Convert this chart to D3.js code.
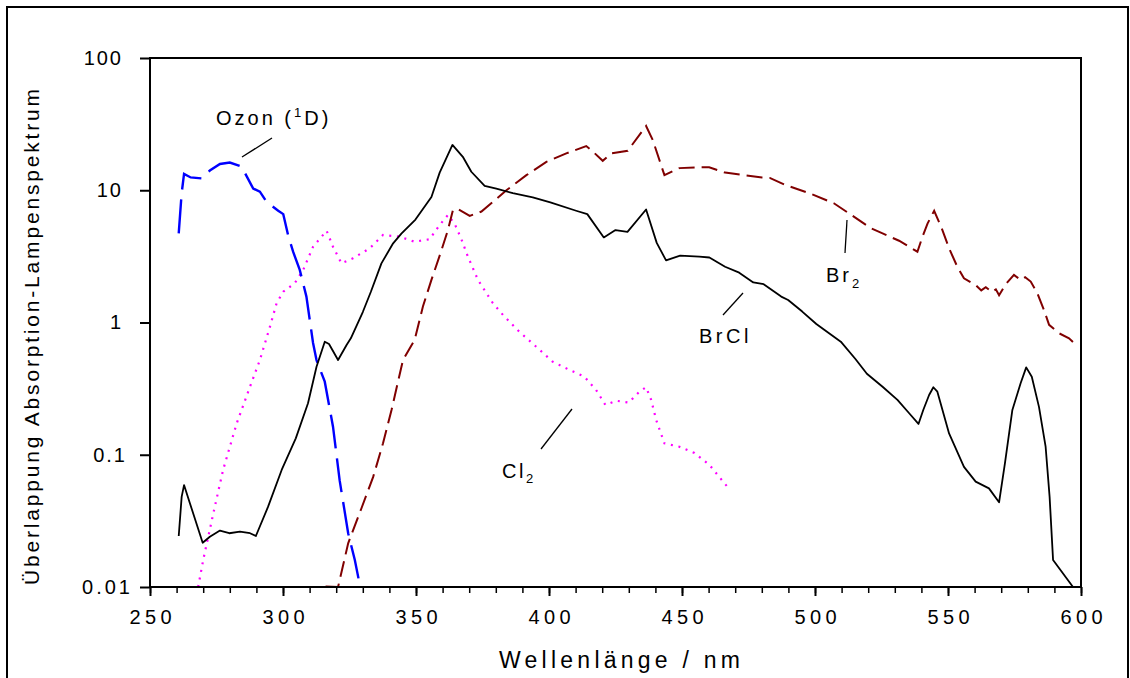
<!DOCTYPE html>
<html>
<head>
<meta charset="utf-8">
<script src="https://cdn.jsdelivr.net/npm/d3@7"></script>
<style>
  html, body { margin: 0; padding: 0; background: #fff; }
  svg { display: block; font-family: Arial, "Liberation Sans", sans-serif; }
  .tick text { fill: #000; }
</style>
</head>
<body>
<svg id="chart" width="1130" height="678"></svg>
<script>
// Überlappung von Absorptionsspektren mit dem Lampenspektrum (log-Skala)

// BrCl (durchgezogen, schwarz)
const brclNm = [260.8, 261.9, 262.8, 265.0, 269.8, 272.5, 276.3, 279.8, 283.8, 287.6, 289.8,
  294.4, 299.5, 304.8, 309.4, 312.6, 315.7, 317.3, 320.7, 323.9, 325.5, 330.0, 333.0, 337.0,
  341.4, 344.5, 349.8, 355.8, 358.9, 363.7, 367.6, 370.8, 375.8, 380.2, 386.4, 393.9, 400.5,
  410.2, 414.4, 420.6, 425.0, 429.5, 436.5, 440.5, 444.0, 449.3, 456.5, 460.3, 466.2, 471.5,
  476.8, 480.7, 487.3, 489.9, 495.2, 500.5, 503.6, 509.7, 515.2, 519.5, 525.4, 531.0, 535.4,
  538.9, 540.7, 542.9, 544.5, 546.0, 550.4, 556.0, 560.4, 565.4, 569.2, 571.4, 574.2, 577.3,
  579.4, 581.5, 584.2, 586.7, 588.2, 589.5, 597.0];
const brclVal = [0.0243, 0.048, 0.059, 0.043, 0.0216, 0.024, 0.0267, 0.0255, 0.0262, 0.0255, 0.0243,
  0.0405, 0.0767, 0.133, 0.245, 0.463, 0.716, 0.688, 0.52, 0.676, 0.76, 1.2, 1.7, 2.8,
  3.97, 4.7, 6.0, 8.9, 13.6, 22.0, 17.9, 13.8, 10.8, 10.3, 9.5, 8.85, 8.1,
  7.0, 6.6, 4.4, 5.0, 4.85, 7.15, 4.0, 2.95, 3.2, 3.15, 3.1, 2.64, 2.38,
  2.01, 1.95, 1.57, 1.48, 1.21, 0.975, 0.877, 0.716, 0.53, 0.41, 0.327, 0.26, 0.206,
  0.171, 0.218, 0.283, 0.324, 0.30, 0.145, 0.081, 0.0626, 0.0557, 0.0437, 0.086, 0.218, 0.347,
  0.458, 0.389, 0.23, 0.115, 0.048, 0.016, 0.01];

// Br2 (gestrichelt, dunkelrot)
const br2Nm = [316.0, 320.7, 324.5, 329.5, 333.9, 337.6, 340.8, 345.1, 349.5, 352.6, 355.8,
  358.9, 362.0, 363.9, 365.8, 370.2, 374.6, 384.0, 391.5, 399.0, 406.5, 414.0, 416.5, 420.2,
  423.4, 429.6, 436.5, 439.0, 443.4, 449.0, 456.5, 460.2, 466.2, 480.1, 483.0, 488.6, 497.9,
  507.1, 513.7, 521.0, 525.4, 531.6, 538.5, 540.4, 542.3, 544.8, 547.9, 550.4, 553.5, 556.0,
  560.4, 562.5, 564.2, 566.6, 568.0, 569.2, 571.7, 574.8, 577.3, 579.0, 581.1, 583.6, 586.1,
  588.0, 591.7, 595.5, 597.4];
const br2Val = [0.0101, 0.0100, 0.0214, 0.0394, 0.068, 0.122, 0.218, 0.52, 0.74, 1.32, 2.1,
  3.2, 5.0, 7.1, 7.2, 6.4, 6.9, 10.0, 13.0, 16.4, 19.0, 21.6, 19.6, 16.7,
  19.0, 19.9, 30.6, 24.0, 13.0, 14.7, 14.9, 14.9, 13.6, 12.5, 12.4, 11.0, 9.5,
  7.97, 6.5, 5.16, 4.72, 4.15, 3.43, 4.45, 5.6, 7.0, 5.0, 3.64, 2.64, 2.16,
  1.92, 1.75, 1.85, 1.7, 1.78, 1.61, 1.95, 2.29, 2.1, 2.2, 2.04, 1.66, 1.24,
  0.96, 0.83, 0.76, 0.70];

// Ozon -> O(1D) (lang gestrichelt, blau)
const ozonNm = [260.8, 261.9, 262.8, 265.3, 269.4, 272.5, 276.3, 280.0, 284.4, 288.8, 291.3,
  293.8, 298.2, 300.1, 301.9, 303.8, 306.3, 308.8, 311.3, 312.6, 315.7, 318.8, 321.3, 324.5,
  327.0, 328.9];
const ozonVal = [4.72, 9.5, 13.3, 12.5, 12.3, 14.1, 15.8, 16.2, 15.1, 10.3, 9.75,
  8.2, 7.0, 6.6, 4.59, 3.43, 2.5, 1.57, 0.70, 0.52, 0.357, 0.163, 0.064, 0.0255,
  0.016, 0.0103];

// Cl2 (gepunktet, magenta)
const cl2Nm = [268.1, 270.0, 273.8, 277.5, 282.6, 287.6, 291.3, 295.1, 297.6, 300.1, 304.4,
  307.6, 311.3, 316.4, 318.8, 322.0, 326.3, 332.6, 337.6, 343.9, 349.5, 355.1, 358.9, 362.0,
  364.5, 367.0, 369.5, 373.3, 378.9, 382.7, 388.9, 395.2, 401.4, 407.7, 413.3, 417.7, 421.2,
  425.3, 430.0, 434.0, 436.5, 438.4, 440.3, 443.4, 449.0, 454.7, 460.3, 464.0, 467.8];
const cl2Val = [0.01, 0.016, 0.036, 0.077, 0.173, 0.327, 0.52, 0.93, 1.4, 1.71, 1.98,
  2.5, 3.74, 4.94, 3.74, 2.8, 3.06, 3.64, 4.59, 4.46, 4.08, 4.26, 5.46, 6.5,
  5.6, 4.3, 3.15, 2.1, 1.4, 1.14, 0.85, 0.656, 0.505, 0.438, 0.39, 0.309, 0.238,
  0.256, 0.248, 0.30, 0.324, 0.26, 0.183, 0.122, 0.115, 0.103, 0.084, 0.068, 0.055];

// Achsen
const xMajorTicks = [250, 300, 350, 400, 450, 500, 550, 600];
const xMinorTicks = d3.range(250, 601, 10);
const yTicks = [0.01, 0.1, 1, 10, 100];
const yTickLabels = ["0.01", "0.1", "1", "10", "100"];
const xTitle = "Wellenlänge / nm";
const yTitle = "Überlappung Absorption-Lampenspektrum";

const svg = d3.select("#chart");
const plotLeft = 150, plotRight = 1081, plotTop = 58, plotBottom = 587;

const x = d3.scaleLinear().domain([250, 600]).range([plotLeft, plotRight]);
const y = d3.scaleLog().domain([0.01, 100]).range([plotBottom, plotTop]);

// äußerer Rahmen
svg.append("rect")
  .attr("x", 7).attr("y", 7).attr("width", 1121).attr("height", 720)
  .attr("fill", "none").attr("stroke", "#000").attr("stroke-width", 2);

svg.append("defs").append("clipPath").attr("id", "plotClip")
  .append("rect").attr("x", plotLeft).attr("y", plotTop - 2)
  .attr("width", plotRight - plotLeft).attr("height", plotBottom - plotTop + 3);

const line = d3.line()
  .x(d => x(d[0]))
  .y(d => y(d[1]))
  .curve(d3.curveLinear);

const zip = (a, b) => a.map((v, i) => [v, b[i]]);

const plot = svg.append("g").attr("clip-path", "url(#plotClip)");

plot.append("path").datum(zip(cl2Nm, cl2Val))
  .attr("d", line).attr("fill", "none")
  .attr("stroke", "#ff00ff").attr("stroke-width", 2.2)
  .attr("stroke-dasharray", "2,5.7");

plot.append("path").datum(zip(ozonNm, ozonVal))
  .attr("d", line).attr("fill", "none")
  .attr("stroke", "#0000ff").attr("stroke-width", 2.4)
  .attr("stroke-dasharray", "34,10");

plot.append("path").datum(zip(br2Nm, br2Val))
  .attr("d", line).attr("fill", "none")
  .attr("stroke", "#800000").attr("stroke-width", 2)
  .attr("stroke-dasharray", "16,7");

plot.append("path").datum(zip(brclNm, brclVal))
  .attr("d", line).attr("fill", "none")
  .attr("stroke", "#000").attr("stroke-width", 1.8)
  .attr("stroke-linejoin", "round");

// Rahmen des Diagramms
svg.append("rect")
  .attr("x", plotLeft).attr("y", plotTop).attr("width", plotRight - plotLeft).attr("height", plotBottom - plotTop)
  .attr("fill", "none").attr("stroke", "#000").attr("stroke-width", 2);

// x-Achse: Nebenstriche
svg.append("g").attr("transform", `translate(0,${plotBottom})`)
  .call(d3.axisBottom(x).tickValues(xMinorTicks).tickSize(6).tickFormat(""))
  .call(g => g.select(".domain").remove())
  .call(g => g.selectAll("line").attr("stroke-width", 1.5));

// x-Achse: Hauptstriche mit Beschriftung
svg.append("g").attr("transform", `translate(0,${plotBottom})`)
  .call(d3.axisBottom(x).tickValues(xMajorTicks).tickSize(9).tickPadding(14).tickFormat(d3.format("d")))
  .call(g => g.select(".domain").remove())
  .call(g => g.selectAll("line").attr("stroke-width", 2))
  .call(g => g.selectAll("text")
    .attr("font-size", 20)
    .attr("font-family", "Arial, 'Liberation Sans', sans-serif")
    .attr("textLength", 42).attr("lengthAdjust", "spacing"));

// y-Achse (logarithmisch); Dezimalzahlen ragen etwas weiter nach rechts
const yLabelShift = { "0.01": 10, "0.1": 4 };
svg.append("g").attr("transform", `translate(${plotLeft},0)`)
  .call(d3.axisLeft(y).tickValues(yTicks).tickSize(10).tickPadding(17)
    .tickFormat((d, i) => yTickLabels[i]))
  .call(g => g.select(".domain").remove())
  .call(g => g.selectAll("line").attr("stroke-width", 2))
  .call(g => g.selectAll("text")
    .attr("font-size", 20)
    .attr("font-family", "Arial, 'Liberation Sans', sans-serif")
    .attr("dx", function() { return yLabelShift[this.textContent] || 0; })
    .style("letter-spacing", function() { return this.textContent.length > 3 ? "3px" : "2px"; }));

// Achsentitel
svg.append("text")
  .attr("x", (plotLeft + plotRight) / 2 + 4).attr("y", 668)
  .attr("text-anchor", "middle").attr("font-size", 23)
  .attr("textLength", 241).attr("lengthAdjust", "spacing")
  .text(xTitle);

svg.append("text")
  .attr("transform", "translate(39,337) rotate(-90)")
  .attr("text-anchor", "middle").attr("font-size", 21)
  .attr("textLength", 496).attr("lengthAdjust", "spacing")
  .text(yTitle);

// Kurvenbeschriftungen mit Hinweislinien
const leaders = [
  [242, 157, 272, 138],
  [847, 220, 845, 253],
  [743, 293, 723, 315],
  [572, 409, 541, 449]
];
svg.append("g").selectAll("line").data(leaders).join("line")
  .attr("x1", d => d[0]).attr("y1", d => d[1])
  .attr("x2", d => d[2]).attr("y2", d => d[3])
  .attr("stroke", "#000").attr("stroke-width", 1.3);

const ozonLabel = svg.append("text").attr("x", 216).attr("y", 125)
  .attr("font-size", 20).style("letter-spacing", "3px");
ozonLabel.append("tspan").text("Ozon (");
ozonLabel.append("tspan").attr("font-size", 13).attr("dy", -8).text("1");
ozonLabel.append("tspan").attr("dy", 8).text("D)");

const br2Label = svg.append("text").attr("x", 826).attr("y", 282)
  .attr("font-size", 20).style("letter-spacing", "3px");
br2Label.append("tspan").text("Br");
br2Label.append("tspan").attr("font-size", 13).attr("dy", 6).text("2");

svg.append("text").attr("x", 699).attr("y", 343)
  .attr("font-size", 20).style("letter-spacing", "3.5px").text("BrCl");

const cl2Label = svg.append("text").attr("x", 502).attr("y", 478)
  .attr("font-size", 20).style("letter-spacing", "2.5px");
cl2Label.append("tspan").text("Cl");
cl2Label.append("tspan").attr("font-size", 13).attr("dy", 5).text("2");
</script>
</body>
</html>
